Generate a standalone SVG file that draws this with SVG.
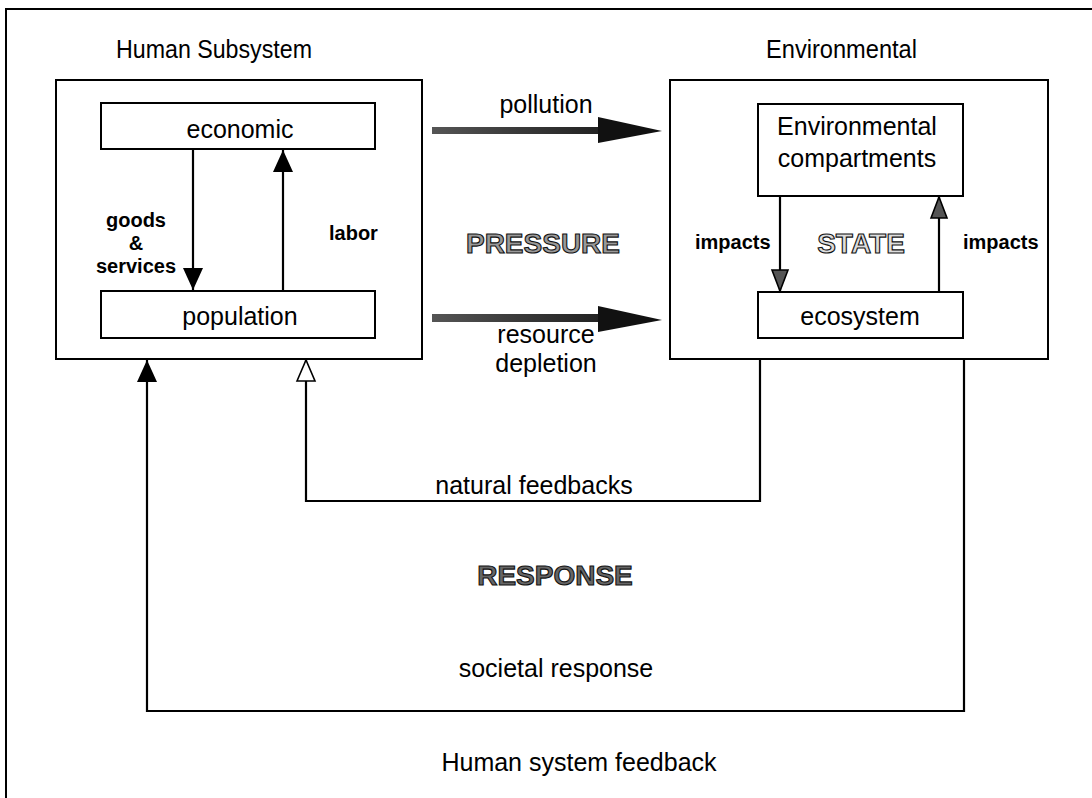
<svg xmlns="http://www.w3.org/2000/svg" width="1092" height="798" viewBox="0 0 1092 798">
<style>
.box{fill:#fff;stroke:#000;stroke-width:2}
.ln{fill:none;stroke:#000;stroke-width:2.2}
.t{font-family:"Liberation Sans",Arial,sans-serif;font-size:25px;fill:#000}
.title{font-family:"Liberation Sans",Arial,sans-serif;font-size:26px;fill:#000}
.b{font-family:"Liberation Sans",Arial,sans-serif;font-size:20px;font-weight:bold;fill:#000}
.big{font-family:"Liberation Sans",Arial,sans-serif;font-size:28px;font-weight:bold;stroke:#111;stroke-width:1.1}
</style>
<defs>
<marker id="ah" markerUnits="userSpaceOnUse" markerWidth="22" markerHeight="20" refX="22" refY="10" orient="auto" overflow="visible"><path d="M0,0 L22,10 L0,20 z" fill="#000"/></marker>
<marker id="ahOpen" markerUnits="userSpaceOnUse" markerWidth="22" markerHeight="20" refX="22" refY="10" orient="auto" overflow="visible"><path d="M1,1 L22,10 L1,19 z" fill="#fff" stroke="#000" stroke-width="1.6"/></marker>
<marker id="ahHatch" markerUnits="userSpaceOnUse" markerWidth="22" markerHeight="18" refX="22" refY="9" orient="auto" overflow="visible"><path d="M1,1 L22,9 L1,17 z" fill="#555" stroke="#000" stroke-width="1.6"/></marker>
<linearGradient id="shaft" x1="0" y1="0" x2="1" y2="0"><stop offset="0" stop-color="#555"/><stop offset="0.5" stop-color="#3a3a3a"/><stop offset="1" stop-color="#222"/></linearGradient>
</defs>
<rect x="6" y="9" width="1100" height="800" fill="#fff" stroke="#000" stroke-width="2"/>
<g id="human-subsystem">
<rect class="box" x="56" y="80" width="366" height="279"/>
<text class="title" x="116" y="58" textLength="196" lengthAdjust="spacingAndGlyphs">Human Subsystem</text>
</g>
<g id="environmental">
<rect class="box" x="670" y="80" width="378" height="279"/>
<text class="title" x="766" y="58" textLength="151" lengthAdjust="spacingAndGlyphs">Environmental</text>
</g>
<g id="economic">
<rect class="box" x="101" y="103" width="274" height="46"/>
<text class="t" x="240" y="138" text-anchor="middle">economic</text>
</g>
<g id="population">
<rect class="box" x="101" y="291" width="274" height="47"/>
<text class="t" x="240" y="325" text-anchor="middle">population</text>
</g>
<g id="env-compartments">
<rect class="box" x="758" y="104" width="205" height="92"/>
<text class="t" x="857" y="135" text-anchor="middle" font-size="26">Environmental</text>
<text class="t" x="857" y="167" text-anchor="middle" font-size="26">compartments</text>
</g>
<g id="ecosystem">
<rect class="box" x="758" y="292" width="205" height="46"/>
<text class="t" x="860" y="325" text-anchor="middle">ecosystem</text>
</g>
<g id="connectors">
<path class="ln" d="M193,149 V290" marker-end="url(#ah)"/>
<path class="ln" d="M283,291 V150" marker-end="url(#ah)"/>
<path class="ln" d="M780,196 V291" marker-end="url(#ahHatch)"/>
<path class="ln" d="M939,292 V197" marker-end="url(#ahHatch)"/>
<path class="ln" d="M760,359 V501 H306 V360" marker-end="url(#ahOpen)"/>
<path class="ln" d="M964,359 V711 H147 V360" marker-end="url(#ah)"/>
<g id="pollution-arrow">
<rect x="432" y="127" width="168" height="7" fill="url(#shaft)"/>
<polygon points="598,117 662,131 598,143" fill="#111"/>
</g>
<g id="depletion-arrow">
<rect x="432" y="314" width="168" height="8" fill="url(#shaft)"/>
<polygon points="598,306 662,320 598,332" fill="#111"/>
</g>
</g>
<g id="labels">
<text class="t" x="546" y="113" text-anchor="middle">pollution</text>
<text class="t" x="546" y="343" text-anchor="middle">resource</text>
<text class="t" x="546" y="372" text-anchor="middle">depletion</text>
<text class="b" x="136" y="227" text-anchor="middle">goods</text>
<text class="b" x="136" y="250" text-anchor="middle">&amp;</text>
<text class="b" x="136" y="273" text-anchor="middle">services</text>
<text class="b" x="329" y="240">labor</text>
<text class="b" x="695" y="249">impacts</text>
<text class="b" x="963" y="249">impacts</text>
<text class="big" x="543" y="253" text-anchor="middle" fill="#999">PRESSURE</text>
<text class="big" x="861" y="253" text-anchor="middle" fill="#ddd">STATE</text>
<text class="big" x="555" y="585" text-anchor="middle" fill="#666">RESPONSE</text>
<text class="t" x="534" y="494" text-anchor="middle">natural feedbacks</text>
<text class="t" x="556" y="677" text-anchor="middle">societal response</text>
<text class="t" x="579" y="771" text-anchor="middle">Human system feedback</text>
</g>
</svg>
